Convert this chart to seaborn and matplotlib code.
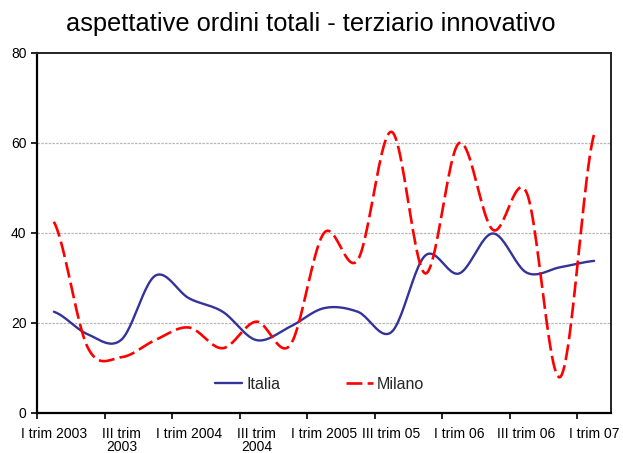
import numpy as np
import pandas as pd
import seaborn as sns
import matplotlib
matplotlib.use("Agg")
import matplotlib.pyplot as plt
from matplotlib.ticker import FixedLocator, FixedFormatter

# ---------------- data ----------------
quarters = ["I trim 2003", "II trim 2003", "III trim 2003", "IV trim 2003",
            "I trim 2004", "II trim 2004", "III trim 2004", "IV trim 2004",
            "I trim 2005", "II trim 2005", "III trim 05", "IV trim 05",
            "I trim 06", "II trim 06", "III trim 06", "IV trim 06",
            "I trim 07"]
italia = [22.5, 17.5, 16.3, 30.5, 25.5, 22.5, 16.2, 19.2, 23.3,
          22.5, 18.0, 35.0, 31.0, 39.9, 31.2, 32.4, 33.8]
milano = [42.5, 14.6, 12.4, 16.2, 19.0, 14.4, 20.3, 15.1, 40.0,
          34.0, 62.5, 31.0, 60.0, 40.7, 49.0, 8.0, 62.0]
tick_labels = ["I trim 2003", "III trim\n2003", "I trim 2004", "III trim\n2004",
               "I trim 2005", "III trim 05", "I trim 06", "III trim 06", "I trim 07"]
title = "aspettative ordini totali - terziario innovativo"
y_ticks = [0, 20, 40, 60, 80]


def smooth(values, steps=24):
    """Catmull-Rom rendering of a line through the given points (like Excel's smoothed line)."""
    y = np.asarray(values, dtype=float)
    p = np.r_[y[0], y, y[-1]]
    xs, ys = [], []
    for i in range(len(y) - 1):
        p0, p1, p2, p3 = p[i], p[i + 1], p[i + 2], p[i + 3]
        t = np.linspace(0, 1, steps, endpoint=False)
        yy = 0.5 * ((2 * p1) + (-p0 + p2) * t + (2 * p0 - 5 * p1 + 4 * p2 - p3) * t ** 2
                    + (-p0 + 3 * p1 - 3 * p2 + p3) * t ** 3)
        xs.append(i + t)
        ys.append(yy)
    xs.append([len(y) - 1])
    ys.append([y[-1]])
    return np.concatenate(xs), np.concatenate(ys)


xi, yi = smooth(italia)
xm, ym = smooth(milano)
df_i = pd.DataFrame({"x": xi, "y": yi, "serie": "Italia"})
df_m = pd.DataFrame({"x": xm, "y": ym, "serie": "Milano"})

# ---------------- style ----------------
sns.set_theme(style="white")
plt.rcParams["font.family"] = ["Liberation Sans", "DejaVu Sans"]

fig = plt.figure(figsize=(6.23, 4.53), dpi=100)
ax = fig.add_axes([37 / 623, 40 / 453, 574 / 623, 360 / 453])

sns.lineplot(data=df_i, x="x", y="y", ax=ax, color="#333399", linewidth=1.7,
             label="Italia", sort=False)
sns.lineplot(data=df_m, x="x", y="y", ax=ax, color="#FF0000", linewidth=1.9,
             label="Milano", sort=False, dashes=False)
ax.lines[1].set_dashes((6.0, 2.0))

ax.set_xlim(-0.5, len(quarters) - 0.5)
ax.set_ylim(0, 80)
ax.set_xlabel("")
ax.set_ylabel("")

# x ticks: marks between categories, labels on every other category
ax.xaxis.set_major_locator(FixedLocator(np.arange(-0.5, len(quarters) - 1, 2)))
ax.xaxis.set_major_formatter(FixedFormatter([""] * 9))
ax.xaxis.set_minor_locator(FixedLocator(np.arange(0, len(quarters), 2)))
ax.xaxis.set_minor_formatter(FixedFormatter(tick_labels))
ax.tick_params(axis="x", which="major", bottom=True, length=4, width=1.2,
               color="black", direction="out")
ax.tick_params(axis="x", which="minor", bottom=True, length=0, pad=10,
               labelsize=10, labelcolor="black")
for lab in ax.xaxis.get_minorticklabels():
    lab.set_linespacing(0.95)

ax.set_yticks(y_ticks)
ax.tick_params(axis="y", left=True, length=4, width=1.2, color="black",
               direction="out", labelsize=10, labelcolor="black", pad=3.5)

for y in y_ticks[1:-1]:
    ax.axhline(y, color="#b8b8b8", linewidth=0.9, linestyle=(0, (2.0, 1.0)), zorder=0)

for side in ["left", "bottom"]:
    ax.spines[side].set_color("black")
    ax.spines[side].set_linewidth(1.6)
for side in ["top", "right"]:
    ax.spines[side].set_color("#222222")
    ax.spines[side].set_linewidth(1.4)

ax.legend(loc="center", bbox_to_anchor=(0.492, 0.08), ncol=2, frameon=False,
          fontsize=11.5, handlelength=1.7, handletextpad=0.25, columnspacing=4.1)

fig.text(0.498, 0.946, title, ha="center", va="center", fontsize=18.3, color="black")

fig.savefig("out.png", dpi=100)
